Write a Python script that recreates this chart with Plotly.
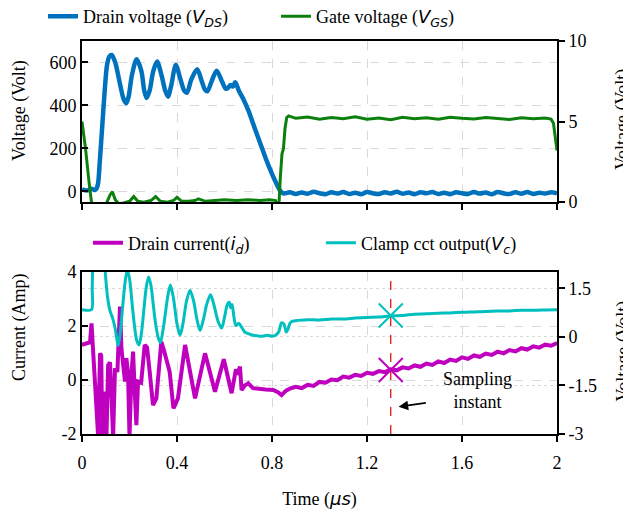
import plotly.graph_objects as go

# ---------------- data ----------------
# Top panel: drain voltage V_DS (left axis, V) and gate voltage V_GS (right axis, V)
vds_t = [0, 0.02, 0.04, 0.055, 0.062, 0.068, 0.075, 0.085, 0.095, 0.105, 0.115, 0.125,
         0.14, 0.16, 0.175, 0.186, 0.196, 0.21, 0.23, 0.25, 0.262, 0.272, 0.285, 0.3,
         0.316, 0.335, 0.35, 0.362, 0.375, 0.395, 0.415, 0.43, 0.442, 0.46, 0.485, 0.505,
         0.517, 0.528, 0.545, 0.567, 0.59, 0.605, 0.615, 0.625, 0.635, 0.645, 0.66, 0.68,
         0.70, 0.72, 0.74, 0.76, 0.78, 0.80, 0.815, 0.826, 0.835,
         0.85, 0.875, 0.9, 0.925, 0.95, 0.975, 1.0, 1.025, 1.05, 1.075, 1.1, 1.125,
         1.15, 1.175, 1.2, 1.225, 1.25, 1.275, 1.3, 1.325, 1.35, 1.375, 1.4, 1.425,
         1.45, 1.475, 1.5, 1.525, 1.55, 1.575, 1.6, 1.625, 1.65, 1.675, 1.7, 1.725,
         1.75, 1.775, 1.8, 1.825, 1.85, 1.875, 1.9, 1.925, 1.95, 1.975, 2.0]
vds_v = [10, 4, 12, 6, 15, 40, 140, 300, 460, 585, 628, 635,
         600, 500, 430, 410, 440, 540, 615, 560, 470, 435, 470, 560,
         604, 540, 470, 441, 490, 588, 520, 470, 459, 520, 568, 510,
         475, 466, 510, 562, 510, 478, 482, 495, 488, 508, 470, 428,
         378, 317, 255, 195, 135, 82, 45, 20, 2,
         -10, -4, -12, -5, -11, -2, -9, -13, -4, -10, -3, -12,
         -6, -13, -3, -9, -12, -4, -10, -2, -11, -5, -13, -4,
         -9, -3, -12, -6, -13, -4, -9, -12, -3, -10, -5, -13,
         -3, -9, -12, -4, -11, -3, -12, -6, -10, -4, -9]

vgs_t = [0, 0.015, 0.03, 0.04, 0.05, 0.07, 0.09, 0.105, 0.118, 0.128, 0.14, 0.155,
         0.175, 0.2, 0.218, 0.235, 0.26, 0.29, 0.31, 0.33, 0.36, 0.385, 0.4, 0.42,
         0.45, 0.475, 0.49, 0.52, 0.56, 0.6, 0.65, 0.7, 0.75, 0.79, 0.815, 0.828,
         0.835, 0.842, 0.848, 0.855, 0.862, 0.87, 0.9, 0.95, 1.0, 1.05, 1.1, 1.15,
         1.2, 1.25, 1.3, 1.35, 1.4, 1.45, 1.5, 1.55, 1.6, 1.65, 1.7, 1.75, 1.8,
         1.85, 1.9, 1.95, 1.975, 1.985, 1.993, 2.0]
vgs_v = [5.0, 3.3, 1.2, 0.0, -0.5, -0.6, -0.3, 0.0, 0.45, 0.65, 0.15, -0.1,
         -0.05, 0.05, 0.35, 0.05, 0.0, 0.1, 0.35, 0.05, 0.0, 0.1, 0.3, 0.05,
         0.05, 0.1, 0.2, 0.05, 0.1, 0.15, 0.1, 0.15, 0.1, 0.15, 0.1, -0.5,
         1.5, 3.0, 3.3, 4.6, 5.25, 5.35, 5.2, 5.28, 5.15, 5.25, 5.18, 5.3,
         5.15, 5.22, 5.12, 5.26, 5.18, 5.24, 5.14, 5.27, 5.2, 5.16, 5.25, 5.2,
         5.13, 5.24, 5.18, 5.22, 5.15, 4.9, 4.0, 3.2]

# Bottom panel: drain current i_d (left axis, A) and clamp output V_c (right axis, V)
id_t = [0, 0.02, 0.034, 0.04, 0.047, 0.055, 0.06, 0.068, 0.076, 0.081, 0.085, 0.097,
        0.103, 0.11, 0.118, 0.124, 0.131, 0.139, 0.149, 0.16, 0.166, 0.181, 0.187,
        0.194, 0.2, 0.208, 0.215, 0.222, 0.229, 0.236, 0.249, 0.264, 0.274, 0.285,
        0.299, 0.313, 0.334, 0.345, 0.369, 0.385, 0.404, 0.434, 0.455, 0.476, 0.518,
        0.539, 0.56, 0.597, 0.614, 0.63, 0.648, 0.656, 0.665, 0.672, 0.686, 0.70,
        0.72, 0.749, 0.774, 0.805, 0.825, 0.84, 0.858, 0.875,
        0.9, 0.925, 0.95, 0.975, 1.0, 1.025, 1.05, 1.075, 1.1, 1.125, 1.15, 1.175,
        1.2, 1.225, 1.25, 1.275, 1.3, 1.325, 1.35, 1.375, 1.4, 1.425, 1.45, 1.475,
        1.5, 1.525, 1.55, 1.575, 1.6, 1.625, 1.65, 1.675, 1.7, 1.725, 1.75, 1.775,
        1.8, 1.825, 1.85, 1.875, 1.9, 1.925, 1.95, 1.975, 2.0]
id_v = [1.3, 1.37, 1.4, 2.1, 1.0, 0.19, -1.0, -2.1, 0.99, 0.9, -2.1, -0.43,
        -2.1, 0.55, 0.66, -0.43, -2.1, 0.43, 0.3, 2.72, 1.17, -0.06, 0.81,
        0.2, -2.1, 0.19, 1.05, -0.43, -1.67, -0.06, -0.1, 1.3, 1.2, 0.31,
        -0.93, -0.68, 1.42, 1.1, 0.31, -1.05, -0.68, 1.3, 0.3, -0.68, 0.99,
        0.2, -0.43, 0.77, 0.1, -0.49, 0.4, 0.2, 0.5, -0.37, -0.2, -0.12,
        -0.3, -0.31, -0.35, -0.37, -0.45, -0.56, -0.4, -0.32,
        -0.25, -0.3, -0.18, -0.22, -0.07, -0.1, 0.02, -0.01, 0.13, 0.09, 0.19, 0.15,
        0.27, 0.23, 0.33, 0.29, 0.4, 0.36, 0.47, 0.43, 0.54, 0.49, 0.61, 0.56,
        0.69, 0.63, 0.76, 0.71, 0.84, 0.78, 0.91, 0.86, 0.98, 0.93, 1.05, 0.99,
        1.11, 1.06, 1.18, 1.13, 1.25, 1.2, 1.31, 1.27, 1.37]

vc_t = [0, 0.04, 0.043, 0.047, 0.055, 0.09, 0.099, 0.108, 0.118, 0.128, 0.139, 0.153,
        0.162, 0.172, 0.18, 0.19, 0.2, 0.21, 0.22, 0.23, 0.24, 0.25, 0.26, 0.27,
        0.28, 0.29, 0.3, 0.31, 0.32, 0.33, 0.345, 0.36, 0.372, 0.385, 0.4, 0.413,
        0.425, 0.44, 0.455, 0.47, 0.485, 0.497, 0.51, 0.525, 0.541, 0.555, 0.572,
        0.588, 0.6, 0.612, 0.62, 0.626, 0.632, 0.64, 0.648, 0.66, 0.672, 0.685,
        0.7, 0.72, 0.74, 0.76, 0.78, 0.8, 0.815, 0.828, 0.84, 0.85, 0.86, 0.868,
        0.878, 0.9, 0.95, 1.0, 1.05, 1.1, 1.15, 1.2, 1.25, 1.3, 1.35, 1.4, 1.45,
        1.5, 1.55, 1.6, 1.65, 1.7, 1.75, 1.8, 1.85, 1.9, 1.95, 2.0]
vc_v = [0.84, 0.84, 1.5, 2.6, 3.2, 3.0, 1.9, 1.2, 0.8, 0.6, 0.28, -0.27,
        0.2, 1.0, 1.6, 2.05, 1.8, 1.1, 0.4, -0.1, -0.25, 0.1, 0.8, 1.5,
        1.85, 1.6, 1.0, 0.4, 0.0, -0.18, 0.4, 1.2, 1.6, 1.2, 0.4, 0.05,
        0.4, 1.1, 1.44, 1.1, 0.5, 0.2, 0.5, 1.0, 1.3, 1.0, 0.5,
        0.27, 0.6, 1.0, 1.07, 0.9, 1.0, 0.6, 0.35, 0.42, 0.3, 0.15,
        0.1, 0.05, 0.03, 0.02, 0.05, 0.02, 0.05, 0.15, 0.43, 0.4, 0.15, 0.25,
        0.45, 0.5, 0.53, 0.52, 0.55, 0.55, 0.58, 0.6, 0.61, 0.65, 0.66, 0.7, 0.71,
        0.73, 0.74, 0.76, 0.77, 0.78, 0.8, 0.8, 0.82, 0.82, 0.83, 0.84]

sampling_time = [1.3]
sample_id = [0.37]
sample_vc = [0.66]

x_ticks = [0, 0.4, 0.8, 1.2, 1.6, 2]
x_ticktext = ["0", "0.4", "0.8", "1.2", "1.6", "2"]
vds_ticks = [0, 200, 400, 600]
vgs_ticks = [0, 5, 10]
id_ticks = [-2, 0, 2, 4]
id_ticktext = ["-2", "0", "2", "4"]
vc_ticks = [-3, -1.5, 0, 1.5]
vc_ticktext = ["-3", "-1.5", "0", "1.5"]

# ---------------- styling ----------------
SERIF = "Liberation Serif"
SANS_I = lambda s: '<span style="font-family:DejaVu Sans"><i>%s</i></span>' % s
BLUE, GREEN, MAGENTA, CYAN = "#0072BD", "#0C800C", "#BF00BF", "#00BFBF"

fig = go.Figure()
fig.add_trace(go.Scatter(x=vds_t, y=vds_v, mode="lines", xaxis="x", yaxis="y",
                         line=dict(color=BLUE, width=4.5, shape="spline", smoothing=0.8),
                         legend="legend",
                         name="Drain voltage (" + SANS_I("V") + "<sub>" + SANS_I("DS") + "</sub>)"))
fig.add_trace(go.Scatter(x=vgs_t, y=vgs_v, mode="lines", xaxis="x", yaxis="y2",
                         line=dict(color=GREEN, width=3), legend="legend2",
                         name="Gate voltage (" + SANS_I("V") + "<sub>" + SANS_I("GS") + "</sub>)"))
fig.add_trace(go.Scatter(x=id_t, y=id_v, mode="lines", xaxis="x2", yaxis="y3",
                         line=dict(color=MAGENTA, width=4), legend="legend3",
                         name="Drain current(" + SANS_I("i") + "<sub>" + SANS_I("d") + "</sub>)"))
fig.add_trace(go.Scatter(x=vc_t, y=vc_v, mode="lines", xaxis="x2", yaxis="y4",
                         line=dict(color=CYAN, width=3, shape="spline", smoothing=0.8),
                         legend="legend4",
                         name="Clamp cct output(" + SANS_I("V") + "<sub>" + SANS_I("c") + "</sub>)"))
# sampling instant line and markers
fig.add_trace(go.Scatter(x=sampling_time * 2, y=[id_ticks[0], id_ticks[-1]], mode="lines",
                         xaxis="x2", yaxis="y3", showlegend=False,
                         line=dict(color="#E00000", width=1.2, dash="dash")))
fig.add_trace(go.Scatter(x=sampling_time, y=sample_id, mode="markers", xaxis="x2", yaxis="y3",
                         showlegend=False,
                         marker=dict(symbol="x-thin", size=24, line=dict(color=MAGENTA, width=2))))
fig.add_trace(go.Scatter(x=sampling_time, y=sample_vc, mode="markers", xaxis="x2", yaxis="y4",
                         showlegend=False,
                         marker=dict(symbol="x-thin", size=24, line=dict(color=CYAN, width=2))))

tickfont = dict(family=SERIF, size=18, color="black")
common_x = dict(range=[0, 2], tickvals=x_ticks, ticktext=x_ticktext, ticks="outside",
                ticklen=6, tickwidth=1.5, tickcolor="black", showline=True, linewidth=2,
                linecolor="black", mirror=True, showgrid=True, gridcolor="#d9d9d9",
                griddash="dash", gridwidth=1, zeroline=False, tickfont=tickfont)
common_yl = dict(ticks="inside", ticklen=6, tickwidth=1.5, tickcolor="black", showline=True,
                 linewidth=2, linecolor="black", mirror=True, showgrid=True,
                 gridcolor="#d9d9d9", griddash="dash", zeroline=False, tickfont=tickfont)
common_yr = dict(ticks="outside", ticklen=6, tickwidth=1.5, tickcolor="black", showline=True,
                 linewidth=2, linecolor="black", zeroline=False, tickfont=tickfont, side="right")

top_dom = [0.59, 1.0]
bot_dom = [0.0, 0.412]

def leg(x, y):
    return dict(orientation="h", x=x, xanchor="left", y=y, yanchor="middle",
                font=dict(family=SERIF, size=18), bgcolor="rgba(0,0,0,0)", itemwidth=30)

# the page body adds an 8 px offset, so the figure is 8 px smaller than the window
fig.update_layout(
    width=623, height=506,
    margin=dict(l=74, r=74, t=33, b=80, autoexpand=False),
    paper_bgcolor="white", plot_bgcolor="white",
    font=dict(family=SERIF, size=18, color="black"),
    xaxis=dict(domain=[0, 1], anchor="y", showticklabels=False, **common_x),
    yaxis=dict(domain=top_dom, anchor="x", range=[-50, 700], tickvals=vds_ticks, **common_yl),
    yaxis2=dict(overlaying="y", anchor="x", range=[0, 10], tickvals=vgs_ticks,
                showgrid=False, **common_yr),
    xaxis2=dict(domain=[0, 1], anchor="y3", ticklabelstandoff=5,
                title=dict(text="Time (" + SANS_I("μs") + ")", standoff=21,
                           font=dict(family=SERIF, size=18)), **common_x),
    yaxis3=dict(domain=bot_dom, anchor="x2", range=[-2, 4], tickvals=id_ticks,
                ticktext=id_ticktext, **common_yl),
    yaxis4=dict(overlaying="y3", anchor="x2", range=[-3, 2], tickvals=vc_ticks,
                ticktext=vc_ticktext, showgrid=True, gridcolor="#d9d9d9", griddash="dot",
                **common_yr),
    legend=leg(-0.0821, 1.062),
    legend2=leg(0.4084, 1.062),
    legend3=leg(0.0126, 0.486),
    legend4=leg(0.503, 0.486),
    showlegend=True,
)

ann_font = dict(family=SERIF, size=18, color="black")
fig.add_annotation(text="Voltage (Volt)", xref="paper", yref="paper", x=-0.1305, y=0.822,
                   textangle=-90, showarrow=False, font=ann_font, xanchor="center", yanchor="middle")
fig.add_annotation(text="Voltage (Volt)", xref="paper", yref="paper", x=1.139, y=0.80,
                   textangle=-90, showarrow=False, font=ann_font, xanchor="center", yanchor="middle")
fig.add_annotation(text="Current (Amp)", xref="paper", yref="paper", x=-0.1305, y=0.27,
                   textangle=-90, showarrow=False, font=ann_font, xanchor="center", yanchor="middle")
fig.add_annotation(text="Voltage (Volt)", xref="paper", yref="paper", x=1.139, y=0.21,
                   textangle=-90, showarrow=False, font=ann_font, xanchor="center", yanchor="middle")
fig.add_annotation(text="Sampling<br>instant", xref="x2", yref="y3", x=1.665, y=-0.39,
                   showarrow=False, font=ann_font, align="center")
fig.add_annotation(text="", xref="x2", yref="y3", x=1.333, y=-0.99, axref="x2", ayref="y3",
                   ax=1.454, ay=-0.84, showarrow=True, arrowhead=2, arrowsize=1.2,
                   arrowwidth=1.6, arrowcolor="black")

fig.write_html("out.html")
